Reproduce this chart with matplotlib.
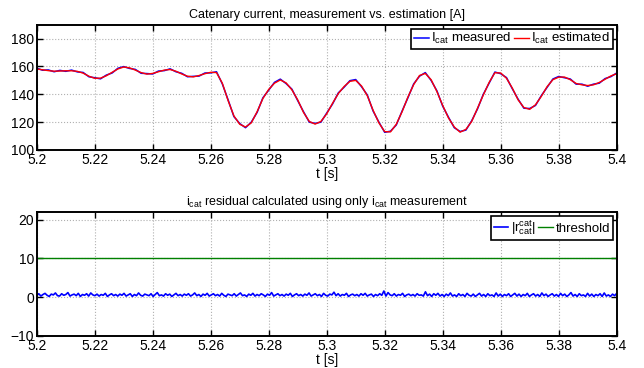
import numpy as np
import matplotlib
matplotlib.use("Agg")
from matplotlib import pyplot as plt

plt.rcParams['font.family'] = ['Liberation Sans', 'DejaVu Sans']
plt.rcParams['mathtext.fontset'] = 'custom'
plt.rcParams['mathtext.rm'] = 'Liberation Sans'
plt.rcParams['mathtext.it'] = 'Liberation Sans:italic'
plt.rcParams['font.size'] = 9

# catenary current, estimated (2 ms steps, 5.2 .. 5.4 s)
i_est = [158.2, 157.6, 157.0, 156.6, 156.7, 156.9, 156.9, 156.5, 155.2, 153.0,
         151.5, 151.6, 153.3, 155.8, 158.2, 159.6, 159.0, 157.4, 155.6, 154.5,
         155.0, 156.2, 157.4, 157.8, 156.6, 154.6, 153.0, 152.5, 153.5, 154.8,
         155.8, 155.6, 148.0, 135.5, 124.5, 118.5, 116.5, 119.5, 127.5, 137.0,
         143.5, 148.0, 150.3, 148.2, 143.2, 136.0, 127.0, 120.5, 118.6, 120.5,
         126.0, 133.5, 140.5, 145.6, 149.3, 150.0, 146.0, 139.0, 128.5, 119.5,
         113.2, 113.0, 118.5, 127.5, 138.0, 147.0, 153.5, 155.0, 150.5, 142.0,
         132.0, 123.0, 116.5, 112.8, 114.8, 120.5, 130.0, 139.5, 148.5, 155.5,
         155.3, 151.5, 144.5, 136.0, 130.5, 129.2, 132.5, 138.5, 145.5, 150.5,
         152.3, 152.4, 150.5, 147.8, 146.8, 146.3, 146.8, 148.5, 150.8, 153.2,
         154.8]

# catenary current, measured
i_meas = [158.8, 157.3, 157.5, 156.2, 157.2, 156.5, 157.4, 156.1, 155.7, 152.6,
          151.9, 151.1, 153.8, 155.3, 158.7, 159.9, 158.6, 157.9, 155.1, 154.9,
          154.6, 156.7, 157.0, 158.3, 156.2, 155.1, 152.6, 152.9, 153.1, 155.3,
          155.4, 156.2, 147.5, 136.0, 124.0, 119.0, 116.0, 120.0, 127.0, 137.5,
          143.0, 148.6, 150.9, 147.7, 143.7, 135.5, 127.5, 120.0, 119.1, 120.0,
          126.5, 133.0, 141.0, 145.1, 149.8, 150.6, 145.5, 139.5, 128.0, 120.0,
          112.7, 113.5, 118.0, 128.0, 137.5, 147.5, 153.0, 155.6, 150.0, 142.5,
          131.5, 123.5, 116.0, 113.3, 114.3, 121.0, 129.5, 140.0, 148.0, 156.0,
          154.8, 152.0, 144.0, 136.5, 130.0, 129.8, 132.0, 139.0, 145.0, 151.0,
          152.8, 151.9, 151.0, 147.3, 147.3, 145.8, 147.3, 148.0, 151.3, 152.7,
          155.3]

# |r_cat^cat| residual
res = [0.4, 0.9, 0.3, 0.7, 1.0, 0.5, 0.2, 0.8, 0.6, 1.1, 0.4, 0.3, 0.9, 0.5, 0.7,
       1.2, 0.3, 0.6, 0.8, 0.4, 1.0, 0.2, 0.7, 0.5, 0.9, 0.3, 1.1, 0.6, 0.4, 0.8,
       0.3, 0.7, 0.5, 1.0, 0.2, 0.6, 0.9, 0.4, 0.7, 0.3, 0.8, 0.5, 1.0, 0.3, 0.6,
       0.9, 0.2, 0.7, 0.4, 1.1, 0.5, 0.3, 0.8, 0.6, 0.4, 0.9, 0.2, 0.7, 1.2, 0.4,
       0.6, 0.3, 0.9, 0.5, 0.8, 0.2, 0.6, 1.0, 0.4, 0.7, 0.3, 0.8, 0.5, 0.9, 0.3,
       0.6, 1.1, 0.4, 0.7, 0.2, 0.8, 0.5, 1.0, 0.3, 0.6, 0.9, 0.4, 0.7, 0.3, 1.0,
       0.5, 0.2, 0.8, 0.6, 0.4, 0.9, 0.3, 0.7, 1.1, 0.4, 0.6, 0.2, 0.8, 0.5, 1.0,
       0.3, 0.7, 0.4, 0.9, 0.6, 0.2, 0.8, 0.5, 1.2, 0.3, 0.6, 0.9, 0.4, 0.7, 0.3,
       0.8, 0.5, 1.0, 0.2, 0.6, 0.9, 0.4, 0.7, 0.3, 0.8, 0.5, 1.1, 0.3, 0.6, 0.9,
       0.4, 0.7, 0.2, 1.0, 0.5, 0.3, 0.8, 0.6, 1.3, 0.4, 0.9, 0.3, 0.7, 0.5, 1.0,
       0.2, 0.6, 0.8, 0.4, 0.7, 0.3, 0.9, 0.5, 1.0, 0.3, 0.6, 0.8, 0.2, 0.7, 0.4,
       0.9, 0.5, 1.6, 0.3, 1.2, 0.6, 0.4, 0.9, 0.3, 0.7, 0.5, 1.0, 0.2, 0.6, 0.8,
       0.4, 0.7, 0.3, 0.9, 0.5, 0.6, 0.3, 1.4, 0.4, 0.8, 0.2, 0.9, 0.5, 1.0, 0.3,
       0.7, 0.2, 0.8, 0.4, 1.1, 0.3, 0.6, 0.2, 0.9, 0.4, 0.7, 0.2, 1.0, 0.5, 0.3,
       0.8, 0.2, 0.6, 1.0, 0.3, 0.7, 0.2, 0.9, 0.4, 0.6, 0.2, 1.1, 0.3, 0.8, 0.2,
       0.7, 0.4, 0.9, 0.2, 0.6, 1.0, 0.3, 0.8, 0.2, 0.7, 0.4, 1.0, 0.2, 0.6, 0.9,
       0.3, 0.7, 0.2, 1.1, 0.4, 0.8, 0.2, 0.6, 0.9, 0.3, 0.7, 0.2, 1.0, 0.4, 0.8,
       0.2, 0.6, 1.2, 0.3, 0.7, 0.2, 0.9, 0.4, 0.6, 0.2, 1.0, 0.3, 0.8, 0.2, 0.7,
       0.4, 0.9, 0.2, 1.1, 0.3, 0.6, 0.2, 0.8, 0.4, 1.0]
threshold = 10

t_i = np.linspace(5.2, 5.4, len(i_est))
t_r = np.linspace(5.2, 5.4, len(res))
xticks = [5.2, 5.22, 5.24, 5.26, 5.28, 5.3, 5.32, 5.34, 5.36, 5.38, 5.4]
xticklabels = ['5.2', '5.22', '5.24', '5.26', '5.28', '5.3', '5.32', '5.34', '5.36', '5.38', '5.4']

fig = plt.figure(figsize=(6.44, 3.68), dpi=100)
ax1 = fig.add_axes([0.057, 0.5924, 0.9006, 0.3405])
ax2 = fig.add_axes([0.057, 0.087, 0.9006, 0.337])

def style(ax):
    ax.set_xlim(5.2, 5.4)
    ax.set_xticks(xticks)
    ax.set_xticklabels(xticklabels)
    ax.grid(True, color='#b0b0b0', linestyle=':', linewidth=0.8)
    ax.tick_params(direction='in', top=True, right=True, length=4, width=1,
                   pad=2, labelsize=10)
    for s in ax.spines.values():
        s.set_linewidth(1.4)
    ax.set_xlabel('t [s]', fontsize=10, labelpad=0)

ax1.plot(t_i, i_meas, color='#0000ff', lw=1.1, label=r'I$_{\mathrm{cat}}$ measured')
ax1.plot(t_i, i_est, color='#ff0000', lw=1.0, label=r'I$_{\mathrm{cat}}$ estimated')
ax1.set_ylim(100, 190)
ax1.set_yticks([100, 120, 140, 160, 180])
style(ax1)
ax1.set_title('Catenary current, measurement vs. estimation [A]', fontsize=9, pad=5)
lg1 = ax1.legend(loc='upper right', ncol=2, fontsize=9.5, handlelength=1.1,
                 handletextpad=0.2, columnspacing=0.2, borderpad=0.2,
                 borderaxespad=0.3, fancybox=False, framealpha=1)
lg1.get_frame().set_edgecolor('black')
lg1.get_frame().set_linewidth(1.2)

ax2.plot(t_r, res, color='#0000ff', lw=1.2, label=r'$|\mathrm{r}^{\mathrm{cat}}_{\mathrm{cat}}|$')
ax2.plot([5.2, 5.4], [threshold, threshold], color='#008000', lw=1.0, label='threshold')
ax2.set_ylim(-10, 22)
ax2.set_yticks([-10, 0, 10, 20])
style(ax2)
ax2.set_title(r'i$_{\mathrm{cat}}$ residual calculated using only i$_{\mathrm{cat}}$ measurement',
              fontsize=9, pad=5)
lg2 = ax2.legend(loc='upper right', ncol=2, fontsize=9.5, handlelength=1.1,
                 handletextpad=0.2, columnspacing=0.2, borderpad=0.2,
                 borderaxespad=0.3, fancybox=False, framealpha=1)
lg2.get_frame().set_edgecolor('black')
lg2.get_frame().set_linewidth(1.2)

plt.savefig('out.png', dpi=100)
